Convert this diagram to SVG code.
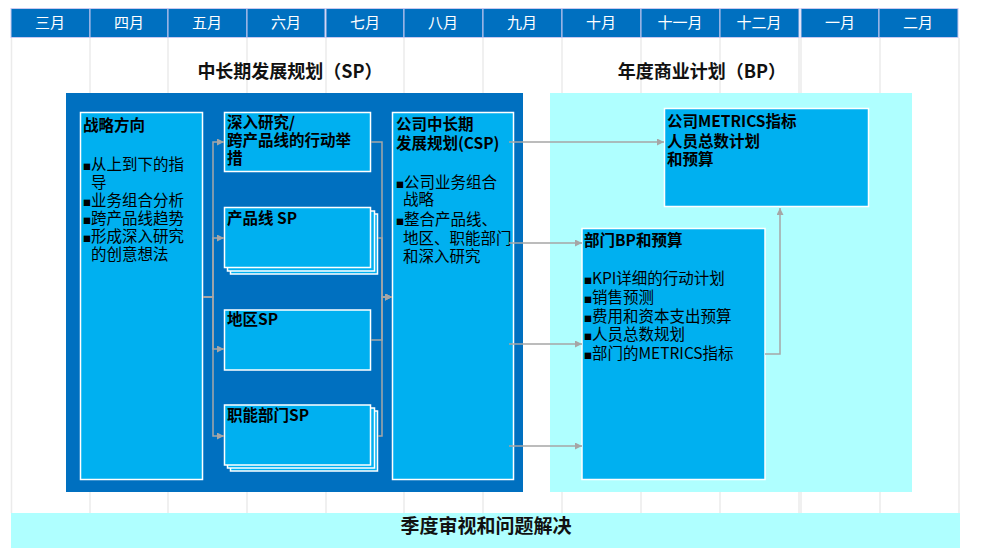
<svg xmlns="http://www.w3.org/2000/svg" width="990" height="554" viewBox="0 0 990 554">
<style>
.hdr{fill:#0070C0;stroke:#C8C8F0;stroke-width:1}
.mon{fill:#FFFFFF;font-family:"Noto Sans CJK SC","Noto Sans",sans-serif;font-size:15px;text-anchor:middle}
.grid{stroke:#EBEBEB;stroke-width:1.5}
.box{fill:#00B0F0;stroke:#FFFFFF;stroke-width:1.5}
.t{font-family:"Noto Sans CJK SC","Noto Sans",sans-serif;font-size:15.5px;fill:#000}
.b{font-weight:bold}
.bu{font-size:8px}
.ttl{font-family:"Noto Sans CJK SC","Noto Sans",sans-serif;font-size:18px;font-weight:bold;fill:#111;text-anchor:middle}
.con{fill:none;stroke:#A6A6A6;stroke-width:1.5}
</style>
<defs>
<marker id="ah" viewBox="0 0 10 10" refX="10" refY="5" markerWidth="7" markerHeight="7" markerUnits="userSpaceOnUse" orient="auto">
<path d="M0,0 L10,5 L0,10 z" fill="#A6A6A6"/>
</marker>
</defs>
<rect width="990" height="554" fill="#FFFFFF"/>
<g id="grid">
<line class="grid" x1="11.5" y1="38" x2="11.5" y2="513"/>
<line class="grid" x1="90" y1="38" x2="90" y2="513"/>
<line class="grid" x1="168" y1="38" x2="168" y2="513"/>
<line class="grid" x1="247" y1="38" x2="247" y2="513"/>
<line class="grid" x1="326" y1="38" x2="326" y2="513"/>
<line class="grid" x1="404" y1="38" x2="404" y2="513"/>
<line class="grid" x1="483" y1="38" x2="483" y2="513"/>
<line class="grid" x1="562" y1="38" x2="562" y2="513"/>
<line class="grid" x1="641" y1="38" x2="641" y2="513"/>
<line class="grid" x1="720" y1="38" x2="720" y2="513"/>
<line class="grid" x1="799" y1="38" x2="799" y2="513"/>
<line class="grid" x1="801" y1="38" x2="801" y2="513"/>
<line class="grid" x1="880" y1="38" x2="880" y2="513"/>
<line class="grid" x1="959" y1="38" x2="959" y2="513"/>
</g>
<g id="header">
<rect class="hdr" x="11" y="8.5" width="79" height="29"/>
<rect class="hdr" x="90" y="8.5" width="78" height="29"/>
<rect class="hdr" x="168" y="8.5" width="79" height="29"/>
<rect class="hdr" x="247" y="8.5" width="78" height="29"/>
<rect class="hdr" x="326" y="8.5" width="78" height="29"/>
<rect class="hdr" x="404" y="8.5" width="79" height="29"/>
<rect class="hdr" x="483" y="8.5" width="79" height="29"/>
<rect class="hdr" x="562" y="8.5" width="79" height="29"/>
<rect class="hdr" x="641" y="8.5" width="79" height="29"/>
<rect class="hdr" x="720" y="8.5" width="79" height="29"/>
<rect class="hdr" x="801" y="8.5" width="78" height="29"/>
<rect class="hdr" x="879" y="8.5" width="79" height="29"/>
<text class="mon" x="50" y="28">三月</text>
<text class="mon" x="129" y="28">四月</text>
<text class="mon" x="207" y="28">五月</text>
<text class="mon" x="286" y="28">六月</text>
<text class="mon" x="365" y="28">七月</text>
<text class="mon" x="443" y="28">八月</text>
<text class="mon" x="522" y="28">九月</text>
<text class="mon" x="601" y="28">十月</text>
<text class="mon" x="680" y="28">十一月</text>
<text class="mon" x="759" y="28">十二月</text>
<text class="mon" x="840" y="28">一月</text>
<text class="mon" x="918" y="28">二月</text>
</g>
<g id="titles">
<text class="ttl" x="290" y="78">中长期发展规划（SP）</text>
<text class="ttl" x="702" y="78">年度商业计划（BP）</text>
</g>
<g id="sp-panel"><rect x="66" y="93" width="457" height="399" fill="#0070C0"/></g>
<g id="bp-panel"><rect x="550" y="93" width="362" height="399" fill="#AFFFFF"/></g>
<g id="strategy">
<rect class="box" x="80.5" y="112.5" width="122" height="367"/>
<text class="t b" x="83" y="131">战略方向</text>
<text class="t" x="83" y="170"><tspan class="bu">■</tspan>从上到下的指</text>
<text class="t" x="91" y="188">导</text>
<text class="t" x="83" y="206"><tspan class="bu">■</tspan>业务组合分析</text>
<text class="t" x="83" y="224"><tspan class="bu">■</tspan>跨产品线趋势</text>
<text class="t" x="83" y="242"><tspan class="bu">■</tspan>形成深入研究</text>
<text class="t" x="91" y="260">的创意想法</text>
</g>
<g id="research">
<rect class="box" x="224.5" y="112.5" width="146" height="59"/>
<text class="t b" x="227" y="128">深入研究/</text>
<text class="t b" x="227" y="146">跨产品线的行动举</text>
<text class="t b" x="227" y="164">措</text>
</g>
<g id="product-sp">
<rect class="box" x="230.5" y="214" width="147" height="60"/>
<rect class="box" x="227.5" y="211" width="147" height="60"/>
<rect class="box" x="224.5" y="207.5" width="146" height="60"/>
<text class="t b" x="227" y="224">产品线 SP</text>
</g>
<g id="region-sp">
<rect class="box" x="224.5" y="310" width="146" height="60"/>
<text class="t b" x="227" y="325">地区SP</text>
</g>
<g id="function-sp">
<rect class="box" x="230.5" y="411" width="147" height="60"/>
<rect class="box" x="227.5" y="408" width="147" height="60"/>
<rect class="box" x="224.5" y="405" width="146" height="60"/>
<text class="t b" x="227" y="421">职能部门SP</text>
</g>
<g id="csp">
<rect class="box" x="392.5" y="112.5" width="121" height="367"/>
<text class="t b" x="396" y="130">公司中长期</text>
<text class="t b" x="396" y="149">发展规划(CSP)</text>
<text class="t" x="396" y="188"><tspan class="bu">■</tspan>公司业务组合</text>
<text class="t" x="403" y="205">战略</text>
<text class="t" x="396" y="225"><tspan class="bu">■</tspan>整合产品线、</text>
<text class="t" x="403" y="244">地区、职能部门</text>
<text class="t" x="403" y="262">和深入研究</text>
</g>
<g id="metrics">
<rect class="box" x="664.5" y="108.5" width="204" height="98"/>
<text class="t b" x="667" y="127">公司METRICS指标</text>
<text class="t b" x="667" y="147">人员总数计划</text>
<text class="t b" x="667" y="165">和预算</text>
</g>
<g id="dept-bp">
<rect class="box" x="582" y="228.5" width="183" height="251"/>
<text class="t b" x="584" y="246">部门BP和预算</text>
<text class="t" x="584" y="284"><tspan class="bu">■</tspan>KPI详细的行动计划</text>
<text class="t" x="584" y="303"><tspan class="bu">■</tspan>销售预测</text>
<text class="t" x="584" y="322"><tspan class="bu">■</tspan>费用和资本支出预算</text>
<text class="t" x="584" y="340"><tspan class="bu">■</tspan>人员总数规划</text>
<text class="t" x="584" y="359"><tspan class="bu">■</tspan>部门的METRICS指标</text>
</g>
<g id="connectors">
<path class="con" d="M203,297 H213 V142 H224" marker-end="url(#ah)"/>
<path class="con" d="M203,297 H213 V238 H224" marker-end="url(#ah)"/>
<path class="con" d="M203,297 H213 V349 H224" marker-end="url(#ah)"/>
<path class="con" d="M203,297 H213 V436 H224" marker-end="url(#ah)"/>
<path class="con" d="M371,142 H382 V297 H392" marker-end="url(#ah)"/>
<path class="con" d="M378,238 H382 V297 H392" marker-end="url(#ah)"/>
<path class="con" d="M371,340 H382 V297 H392" marker-end="url(#ah)"/>
<path class="con" d="M378,436 H382 V297 H392" marker-end="url(#ah)"/>
<path class="con" d="M509,142 H664" marker-end="url(#ah)"/>
<path class="con" d="M509,243 H582" marker-end="url(#ah)"/>
<path class="con" d="M509,344 H582" marker-end="url(#ah)"/>
<path class="con" d="M509,446 H582" marker-end="url(#ah)"/>
<path class="con" d="M765,354 H780 V208" marker-end="url(#ah)"/>
</g>
<g id="review">
<rect x="11" y="513" width="949" height="35" fill="#AFFFFF"/>
<text x="486" y="533" font-family="'Noto Sans CJK SC','Noto Sans',sans-serif" font-size="19" font-weight="bold" fill="#111" text-anchor="middle">季度审视和问题解决</text>
</g>
</svg>
